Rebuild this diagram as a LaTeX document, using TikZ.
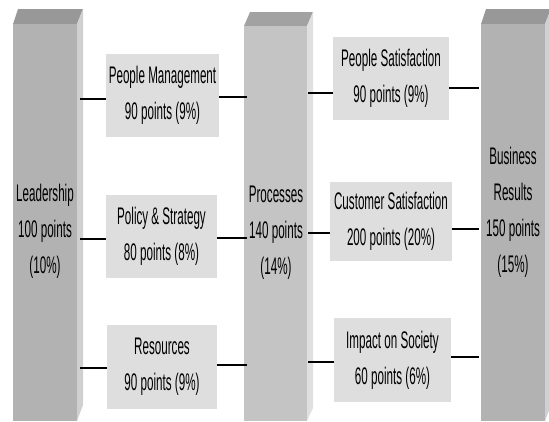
\documentclass[tikz,border=0pt]{standalone}
\usepackage{fontspec}
\setmainfont{Liberation Sans}[FakeStretch=0.485]
\definecolor{boxgray}{HTML}{DEDEDE}
\definecolor{frontA}{HTML}{B2B2B2}
\definecolor{sideA}{HTML}{D0D0D0}
\definecolor{topA}{HTML}{989898}
\definecolor{frontB}{HTML}{C4C4C4}
\definecolor{sideB}{HTML}{E0E0E0}
\definecolor{topB}{HTML}{A2A2A2}
\begin{document}
\begin{tikzpicture}[x=1pt,y=-1pt,
  txt/.style={font=\fontsize{24}{36}\selectfont, align=center, text=black, inner sep=0pt},
  box/.style={fill=boxgray, inner sep=0pt, txt},
  frontface/.style={inner sep=0pt, anchor=north west, minimum width=64pt, minimum height=397pt},
  link/.style={line width=1.6pt, black}]
\useasboundingbox (0,0) rectangle (549,421);
\clip (0,0) rectangle (549,421);

% Leadership pillar
\fill[topA] (13,24) -- (18,9) -- (83,9) -- (77,24) -- cycle;
\fill[sideA] (77,24) -- (83,9) -- (83,405) -- (77,421) -- cycle;
\node[frontface, fill=frontA] (L) at (13,24) {};
\node[txt] (Lt) at (45,231.5) {Leadership\\100 points\\(10\%)};

% Processes pillar
\fill[topB] (244,26) -- (250,12) -- (313,12) -- (307,26) -- cycle;
\fill[sideB] (307,26) -- (313,12) -- (313,408) -- (307,421) -- cycle;
\node[frontface, fill=frontB, minimum width=63pt, minimum height=395pt] (P) at (244,26) {};
\node[txt] (Pt) at (276,233) {Processes\\140 points\\(14\%)};

% Business Results pillar
\fill[topA] (481,24) -- (486,9) -- (551,9) -- (545,24) -- cycle;
\fill[sideA] (545,24) -- (551,9) -- (551,405) -- (545,421) -- cycle;
\node[frontface, fill=frontA] (B) at (481,24) {};
\node[txt] (Bt) at (513,212.5) {Business\\Results\\150 points\\(15\%)};

% Enabler boxes
\node[box, minimum width=113pt, minimum height=83pt] (PM) at (162.5,95.5) {People Management\\90 points (9\%)};
\node[box, minimum width=111pt, minimum height=83pt] (PS) at (161.5,236.5) {Policy \& Strategy\\80 points (8\%)};
\node[box, minimum width=110pt, minimum height=84pt] (RE) at (162,367) {Resources\\90 points (9\%)};

% Result boxes
\node[box, minimum width=116pt, minimum height=83pt] (PSat) at (391,78.5) {People Satisfaction\\90 points (9\%)};
\node[box, minimum width=122pt, minimum height=79pt] (CSat) at (391,221.5) {Customer Satisfaction\\200 points (20\%)};
\node[box, minimum width=117pt, minimum height=84pt] (IS) at (392.5,360) {Impact on Society\\60 points (6\%)};

% Connectors: Leadership -> enablers -> Processes
\draw[link] ([yshift=-3.5pt]PM.west) -- ([yshift=-3.5pt,xshift=3pt]PM.west -| L.east);
\draw[link] ([yshift=-1.5pt]PM.east) -- ([yshift=-1.5pt,xshift=3pt]PM.east -| P.west);
\draw[link] ([yshift=-2.5pt]PS.west) -- ([yshift=-2.5pt,xshift=3pt]PS.west -| L.east);
\draw[link] ([yshift=-1.5pt]PS.east) -- ([yshift=-1.5pt,xshift=3pt]PS.east -| P.west);
\draw[link] ([yshift=-1pt]RE.west) -- ([yshift=-1pt,xshift=3pt]RE.west -| L.east);
\draw[link] ([yshift=2pt]RE.east) -- ([yshift=2pt,xshift=3pt]RE.east -| P.west);

% Connectors: Processes -> results -> Business Results
\draw[link] ([yshift=-14.5pt]PSat.west) -- ([yshift=-14.5pt,xshift=1pt]PSat.west -| P.east);
\draw[link] ([yshift=-9.5pt]PSat.east) -- ([yshift=-9.5pt,xshift=-2pt]PSat.east -| B.west);
\draw[link] ([yshift=-11.5pt]CSat.west) -- ([yshift=-11.5pt,xshift=1pt]CSat.west -| P.east);
\draw[link] ([yshift=-7.5pt]CSat.east) -- ([yshift=-7.5pt,xshift=-2pt]CSat.east -| B.west);
\draw[link] ([yshift=-2pt]IS.west) -- ([yshift=-2pt,xshift=1pt]IS.west -| P.east);
\draw[link] ([yshift=3pt]IS.east) -- ([yshift=3pt,xshift=-2pt]IS.east -| B.west);
\end{tikzpicture}
\end{document}
